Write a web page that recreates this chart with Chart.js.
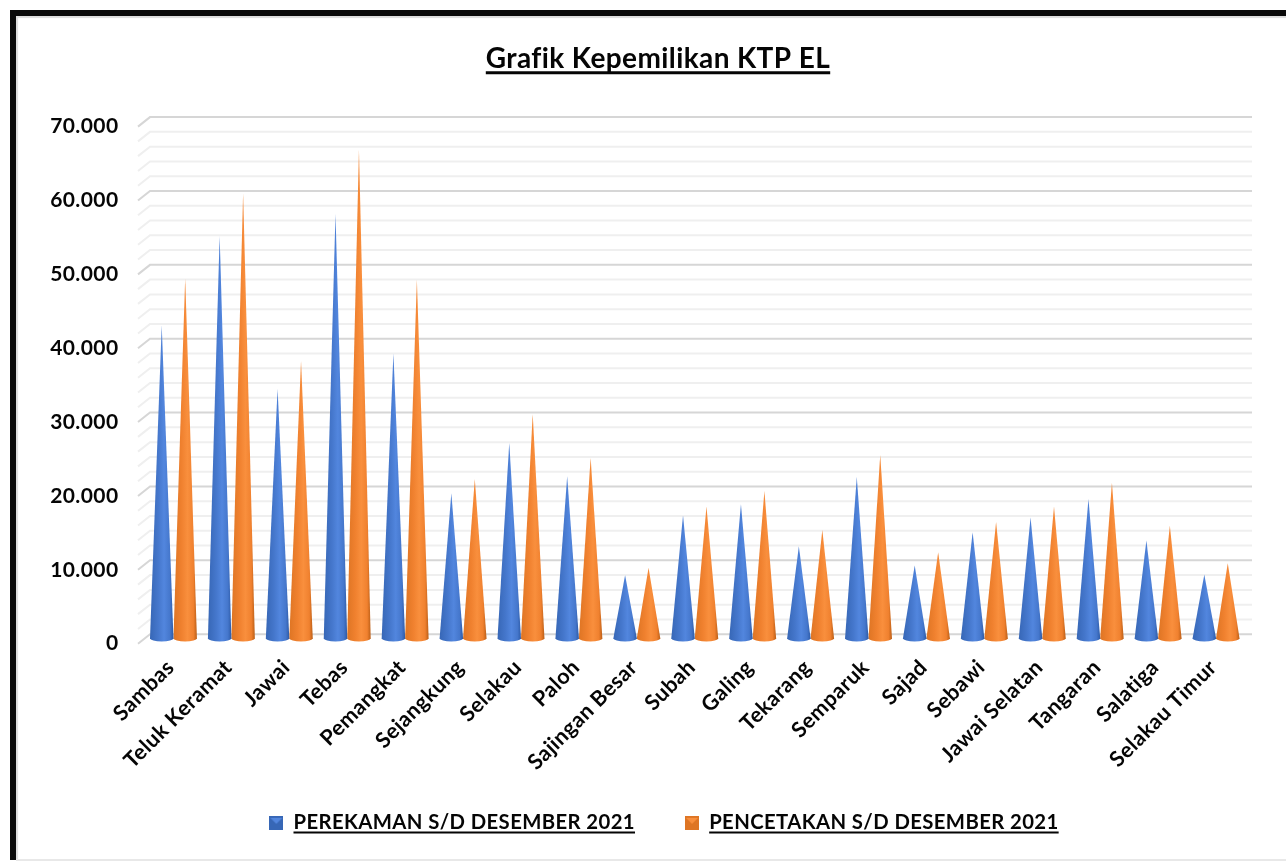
<!DOCTYPE html>
<html><head><meta charset="utf-8">
<style>
html,body{margin:0;padding:0;background:#fff;width:1286px;height:861px;overflow:hidden}
#frame{position:absolute;left:10px;top:10px;width:1290px;height:850px;border:6px solid #0a0a0a;border-bottom:0;box-sizing:border-box;box-shadow:inset 2px 2px 1px #ddd}
#floor{position:absolute;left:16px;top:859px;width:1270px;height:2px;background:#e8e8e8}
#wrap{position:absolute;left:0;top:0;width:1286px;height:861px}
</style>
<script src="https://cdn.jsdelivr.net/npm/chart.js@4"></script>
</head><body>
<div id="frame"></div><div id="floor"></div>
<div id="wrap"><canvas id="c" width="1286" height="861"></canvas></div>
<script>
const categories = ["Sambas","Teluk Keramat","Jawai","Tebas","Pemangkat","Sejangkung","Selakau","Paloh","Sajingan Besar","Subah","Galing","Tekarang","Semparuk","Sajad","Sebawi","Jawai Selatan","Tangaran","Salatiga","Selakau Timur"];
const perekaman = [42000,54100,33400,57100,38200,19300,26100,21600,8200,16300,17800,12100,21500,9500,14000,16000,18500,12900,8300];
const pencetakan = [48400,59900,37200,65800,48200,21200,30000,24100,9200,17500,19600,14300,24500,11300,15400,17500,20700,14900,9800];
const seriesNames = ["PEREKAMAN S/D DESEMBER 2021","PENCETAKAN S/D DESEMBER 2021"];
const titleText = "Grafik Kepemilikan KTP EL";
const FONT = "Lato, 'Open Sans', sans-serif";
const INK = '#050505';
const palettes = [
  {edgeL:'#3767b6',mid:'#4577cc',light:'#5286de',edgeR:'#2d5aa6',flat:'#4472c4'},
  {edgeL:'#de7524',mid:'#f0812f',light:'#f98f3d',edgeR:'#bb5e16',flat:'#ed7d31'}
];
function marker(p){
  const c=document.createElement('canvas');c.width=14;c.height=14;const g=c.getContext('2d');
  g.fillStyle=p.edgeL;g.fillRect(0,0,14,14);
  g.fillStyle=p.light;g.beginPath();g.moveTo(1,2);g.lineTo(13,2);g.lineTo(7,8);g.fill();
  return c;
}
const markers=palettes.map(marker);
const DEPTH_Y=9.5, BACK_L=150, BACK_R=1252, STUB_L=138, MID_Y=5.5, TIP_EXTRA=2.5;
const spacingPlugin={id:'spacing',
  beforeLayout(chart){chart.ctx.letterSpacing='0.4px';},
  afterLayout(chart){
    chart.titleBlock.left=71;
    chart.legend.left=83;chart.legend.adjustHitBoxes();
    chart.scales.x.bottom=chart.height;
  },
  beforeDraw(chart){chart.ctx.letterSpacing='0.4px';}
};
const gridPlugin={id:'wall',beforeDatasetsDraw(chart){
  const y=chart.scales.y,ctx=chart.ctx;ctx.save();
  for(let v=0;v<=70000;v+=2000){
    const p=y.getPixelForValue(v),major=v%10000===0;
    ctx.strokeStyle=major?'#d6d6d6':'#efefef';ctx.lineWidth=2;
    ctx.beginPath();ctx.moveTo(STUB_L,p);ctx.lineTo(BACK_L,p-DEPTH_Y);ctx.lineTo(BACK_R,p-DEPTH_Y);ctx.stroke();
  }
  ctx.restore();
}};
const conePlugin={id:'cones',beforeDatasetDraw(chart,args){
  const ctx=chart.ctx,meta=args.meta,p=palettes[args.index];
  ctx.save();
  meta.data.forEach(b=>{
    const hw=b.width/2,top=b.y-MID_Y-TIP_EXTRA,base=b.base-MID_Y,ry=3.2;
    const g=ctx.createLinearGradient(b.x-hw,0,b.x+hw,0);
    g.addColorStop(0,p.edgeL);g.addColorStop(.35,p.mid);g.addColorStop(.6,p.light);g.addColorStop(.85,p.mid);g.addColorStop(1,p.edgeR);
    ctx.fillStyle=g;ctx.beginPath();ctx.moveTo(b.x,top);ctx.lineTo(b.x+hw,base);
    ctx.ellipse(b.x,base,hw,ry,0,0,Math.PI);ctx.closePath();ctx.fill();
  });
  ctx.restore();
  return false;
}};
const underlinePlugin={id:'underline',afterDraw(chart){
  const ctx=chart.ctx;ctx.save();ctx.strokeStyle=INK;
  ctx.font="700 28px "+FONT;
  const w=ctx.measureText(titleText).width,cx=(chart.titleBlock.left+chart.titleBlock.right)/2;
  ctx.lineWidth=3;ctx.beginPath();ctx.moveTo(cx-w/2,72.7);ctx.lineTo(cx+w/2,72.7);ctx.stroke();
  const l=chart.legend;ctx.font=l.options.labels.font.weight+" "+l.options.labels.font.size+"px "+FONT;
  ctx.lineWidth=2;
  l.legendHitBoxes.forEach((h,i)=>{
    const tw=ctx.measureText(seriesNames[i]).width,x0=h.left+h.width-tw;
    ctx.beginPath();ctx.moveTo(x0,832.5);ctx.lineTo(x0+tw,832.5);ctx.stroke();
  });
  ctx.restore();
}};
new Chart(document.getElementById('c'),{
  type:'bar',
  data:{labels:categories,datasets:[
    {label:seriesNames[0],data:perekaman,backgroundColor:palettes[0].flat},
    {label:seriesNames[1],data:pencetakan,backgroundColor:palettes[1].flat}
  ]},
  plugins:[spacingPlugin,gridPlugin,conePlugin,underlinePlugin],
  options:{
    responsive:false,animation:false,
    layout:{padding:{left:0,right:41,top:0,bottom:18}},
    datasets:{bar:{categoryPercentage:.81,barPercentage:1}},
    plugins:{
      title:{display:true,text:titleText,color:INK,font:{family:FONT,size:28,weight:'700'},padding:{top:42,bottom:51},align:'center'},
      tooltip:{enabled:false},
      legend:{position:'bottom',labels:{color:INK,font:{family:FONT,size:20.3,weight:'700'},usePointStyle:true,boxWidth:14,boxHeight:14,padding:50,
        generateLabels(){return seriesNames.map((n,i)=>({text:n,fillStyle:palettes[i].flat,strokeStyle:palettes[i].flat,lineWidth:0,pointStyle:markers[i],datasetIndex:i,fontColor:INK}));}}}
    },
    scales:{
      x:{grid:{display:false},border:{display:false},
        afterFit(s){s.height=119;},
        ticks:{color:INK,font:{family:FONT,size:21.5,weight:'700'},minRotation:45,maxRotation:45,autoSkip:false,padding:3,labelOffset:-3}},
      y:{min:0,max:70000,grid:{display:false},border:{display:false},
        afterFit(s){s.width=144.5;},
        ticks:{stepSize:10000,color:INK,font:{family:FONT,size:21,weight:'700'},padding:18,
          callback:v=>v===0?'0':(v/1000).toFixed(0)+'.000'}}
    }
  }
});
</script>
</body></html>
